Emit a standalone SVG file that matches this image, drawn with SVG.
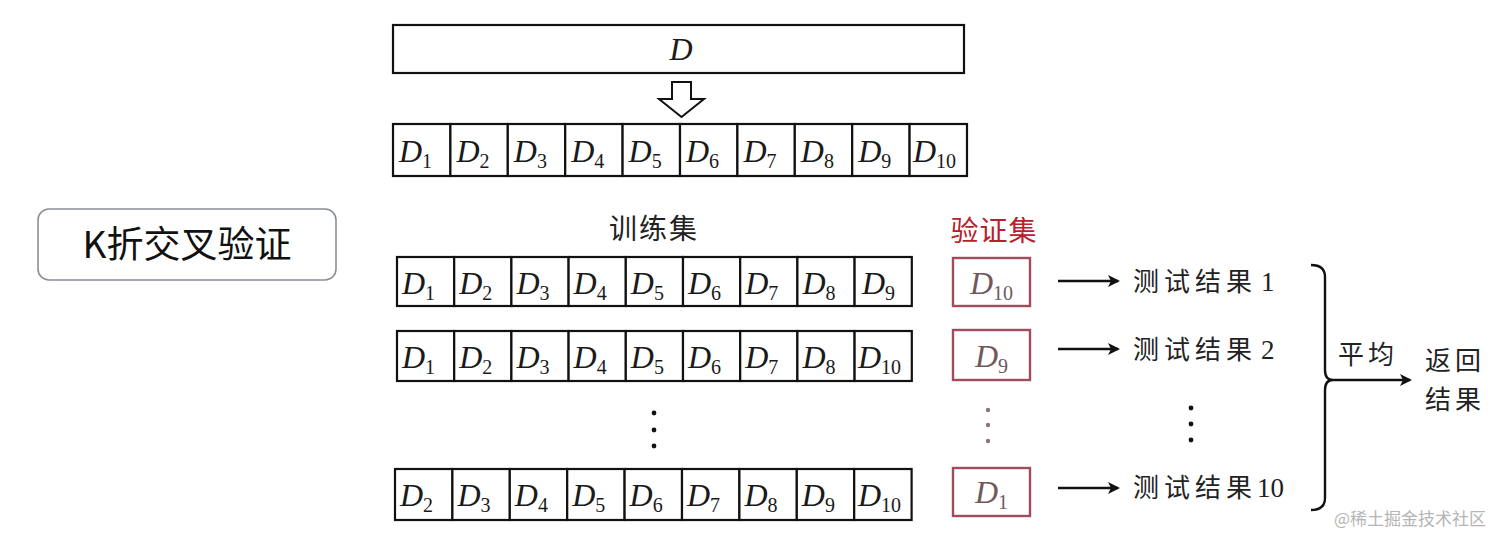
<svg xmlns="http://www.w3.org/2000/svg" width="1512" height="545" viewBox="0 0 1512 545">
<style>
.cell{fill:#fff;stroke:#111;stroke-width:2.2}
.vcell{fill:#fff;stroke:#a34b5e;stroke-width:2.4}
.d{font-family:"Liberation Serif",serif;font-style:italic;font-size:32px;fill:#1a1a1a}
.vd{font-family:"Liberation Serif",serif;font-style:italic;font-size:32px;fill:#6e5a5e}
.sub{font-style:normal;font-size:20px}
.cn{font-family:"Noto Sans CJK SC",sans-serif;font-size:26px;fill:#222;letter-spacing:5px}
.num{font-family:"Liberation Serif",serif;font-size:27px;fill:#222;letter-spacing:0}
.red{font-family:"Noto Sans CJK SC",sans-serif;font-size:28px;fill:#b8202c;letter-spacing:1px}
.conn{stroke:#111;stroke-width:2.4;fill:none}
</style>
<defs>
<marker id="ah" markerWidth="12" markerHeight="12" refX="10" refY="6" orient="auto" markerUnits="userSpaceOnUse">
<path d="M0,0 L12,6 L0,12 L3,6 Z" fill="#111"/>
</marker>
</defs>
<rect width="1512" height="545" fill="#fff"/>

<g id="label">
<rect x="38" y="209" width="298" height="71" rx="11" fill="#fff" stroke="#8a8f98" stroke-width="1.6"/>
<text x="187" y="258" text-anchor="middle" font-family="Noto Sans CJK SC, sans-serif" font-size="37" fill="#111">K折交叉验证</text>
</g>

<g id="D-full">
<rect class="cell" x="393" y="25" width="571" height="48"/>
<text class="d" x="681" y="60" text-anchor="middle">D</text>
</g>

<g id="split-arrow">
<path d="M672,82 L691,82 L691,99 L704,99 L681.5,117 L659,99 L672,99 Z" fill="#fff" stroke="#111" stroke-width="2"/>
</g>

<g id="row0">
<rect class="cell" x="393" y="124" width="57.4" height="52"/><text class="d" x="399" y="162">D<tspan class="sub" dy="6">1</tspan></text>
<rect class="cell" x="450.4" y="124" width="57.4" height="52"/><text class="d" x="456.4" y="162">D<tspan class="sub" dy="6">2</tspan></text>
<rect class="cell" x="507.8" y="124" width="57.4" height="52"/><text class="d" x="513.8" y="162">D<tspan class="sub" dy="6">3</tspan></text>
<rect class="cell" x="565.2" y="124" width="57.4" height="52"/><text class="d" x="571.2" y="162">D<tspan class="sub" dy="6">4</tspan></text>
<rect class="cell" x="622.6" y="124" width="57.4" height="52"/><text class="d" x="628.6" y="162">D<tspan class="sub" dy="6">5</tspan></text>
<rect class="cell" x="680" y="124" width="57.4" height="52"/><text class="d" x="686" y="162">D<tspan class="sub" dy="6">6</tspan></text>
<rect class="cell" x="737.4" y="124" width="57.4" height="52"/><text class="d" x="743.4" y="162">D<tspan class="sub" dy="6">7</tspan></text>
<rect class="cell" x="794.8" y="124" width="57.4" height="52"/><text class="d" x="800.8" y="162">D<tspan class="sub" dy="6">8</tspan></text>
<rect class="cell" x="852.2" y="124" width="57.4" height="52"/><text class="d" x="858.2" y="162">D<tspan class="sub" dy="6">9</tspan></text>
<rect class="cell" x="909.6" y="124" width="57.4" height="52"/><text class="d" x="913" y="162">D<tspan class="sub" dy="6">10</tspan></text>
</g>

<g id="titles">
<text class="cn" x="654" y="239" text-anchor="middle" style="font-size:28px;letter-spacing:2px">训练集</text>
<text class="red" x="994" y="241" text-anchor="middle">验证集</text>
</g>

<g id="train1">
<rect class="cell" x="397" y="257" width="57.2" height="49"/><text class="d" x="402" y="294">D<tspan class="sub" dy="6">1</tspan></text>
<rect class="cell" x="454.2" y="257" width="57.2" height="49"/><text class="d" x="459.2" y="294">D<tspan class="sub" dy="6">2</tspan></text>
<rect class="cell" x="511.4" y="257" width="57.2" height="49"/><text class="d" x="516.4" y="294">D<tspan class="sub" dy="6">3</tspan></text>
<rect class="cell" x="568.6" y="257" width="57.2" height="49"/><text class="d" x="573.6" y="294">D<tspan class="sub" dy="6">4</tspan></text>
<rect class="cell" x="625.8" y="257" width="57.2" height="49"/><text class="d" x="630.8" y="294">D<tspan class="sub" dy="6">5</tspan></text>
<rect class="cell" x="683" y="257" width="57.2" height="49"/><text class="d" x="688" y="294">D<tspan class="sub" dy="6">6</tspan></text>
<rect class="cell" x="740.2" y="257" width="57.2" height="49"/><text class="d" x="745.2" y="294">D<tspan class="sub" dy="6">7</tspan></text>
<rect class="cell" x="797.4" y="257" width="57.2" height="49"/><text class="d" x="802.4" y="294">D<tspan class="sub" dy="6">8</tspan></text>
<rect class="cell" x="854.6" y="257" width="57.2" height="49"/><text class="d" x="862" y="294">D<tspan class="sub" dy="6">9</tspan></text>
</g>

<g id="train2">
<rect class="cell" x="397" y="331" width="57.2" height="50"/><text class="d" x="402" y="368">D<tspan class="sub" dy="6">1</tspan></text>
<rect class="cell" x="454.2" y="331" width="57.2" height="50"/><text class="d" x="459.2" y="368">D<tspan class="sub" dy="6">2</tspan></text>
<rect class="cell" x="511.4" y="331" width="57.2" height="50"/><text class="d" x="516.4" y="368">D<tspan class="sub" dy="6">3</tspan></text>
<rect class="cell" x="568.6" y="331" width="57.2" height="50"/><text class="d" x="573.6" y="368">D<tspan class="sub" dy="6">4</tspan></text>
<rect class="cell" x="625.8" y="331" width="57.2" height="50"/><text class="d" x="630.8" y="368">D<tspan class="sub" dy="6">5</tspan></text>
<rect class="cell" x="683" y="331" width="57.2" height="50"/><text class="d" x="688" y="368">D<tspan class="sub" dy="6">6</tspan></text>
<rect class="cell" x="740.2" y="331" width="57.2" height="50"/><text class="d" x="745.2" y="368">D<tspan class="sub" dy="6">7</tspan></text>
<rect class="cell" x="797.4" y="331" width="57.2" height="50"/><text class="d" x="802.4" y="368">D<tspan class="sub" dy="6">8</tspan></text>
<rect class="cell" x="854.6" y="331" width="57.2" height="50"/><text class="d" x="858" y="368">D<tspan class="sub" dy="6">10</tspan></text>
</g>

<g id="train-dots" fill="#111">
<circle cx="654" cy="413" r="2.4"/><circle cx="654" cy="430" r="2.4"/><circle cx="654" cy="446" r="2.4"/>
</g>

<g id="train10">
<rect class="cell" x="395" y="469" width="57.4" height="51"/><text class="d" x="400" y="506">D<tspan class="sub" dy="6">2</tspan></text>
<rect class="cell" x="452.4" y="469" width="57.4" height="51"/><text class="d" x="457.4" y="506">D<tspan class="sub" dy="6">3</tspan></text>
<rect class="cell" x="509.8" y="469" width="57.4" height="51"/><text class="d" x="514.8" y="506">D<tspan class="sub" dy="6">4</tspan></text>
<rect class="cell" x="567.2" y="469" width="57.4" height="51"/><text class="d" x="572.2" y="506">D<tspan class="sub" dy="6">5</tspan></text>
<rect class="cell" x="624.6" y="469" width="57.4" height="51"/><text class="d" x="629.6" y="506">D<tspan class="sub" dy="6">6</tspan></text>
<rect class="cell" x="682" y="469" width="57.4" height="51"/><text class="d" x="687" y="506">D<tspan class="sub" dy="6">7</tspan></text>
<rect class="cell" x="739.4" y="469" width="57.4" height="51"/><text class="d" x="744.4" y="506">D<tspan class="sub" dy="6">8</tspan></text>
<rect class="cell" x="796.8" y="469" width="57.4" height="51"/><text class="d" x="801.8" y="506">D<tspan class="sub" dy="6">9</tspan></text>
<rect class="cell" x="854.2" y="469" width="57.4" height="51"/><text class="d" x="858" y="506">D<tspan class="sub" dy="6">10</tspan></text>
</g>

<g id="val1">
<rect class="vcell" x="953" y="258" width="77" height="48"/><text class="vd" x="991.5" y="294" text-anchor="middle">D<tspan class="sub" dy="6">10</tspan></text>
</g>
<g id="val2">
<rect class="vcell" x="953" y="330" width="77" height="50"/><text class="vd" x="991.5" y="367" text-anchor="middle">D<tspan class="sub" dy="6">9</tspan></text>
</g>
<g id="val-dots" fill="#8a7479">
<circle cx="988" cy="410" r="2.2"/><circle cx="988" cy="425" r="2.2"/><circle cx="988" cy="441" r="2.2"/>
</g>
<g id="val10">
<rect class="vcell" x="953" y="468" width="77" height="48"/><text class="vd" x="991.5" y="503" text-anchor="middle">D<tspan class="sub" dy="6">1</tspan></text>
</g>

<g id="connectors">
<line class="conn" x1="1058" y1="281" x2="1118" y2="281" marker-end="url(#ah)"/>
<line class="conn" x1="1058" y1="349" x2="1118" y2="349" marker-end="url(#ah)"/>
<line class="conn" x1="1058" y1="488" x2="1118" y2="488" marker-end="url(#ah)"/>
<path class="conn" d="M1311,265 Q1325,265 1325,277 L1325,370 Q1325,380 1333,380 Q1325,380 1325,390 L1325,498 Q1325,510 1311,510"/>
<line class="conn" x1="1333" y1="380" x2="1410" y2="380" marker-end="url(#ah)"/>
</g>

<g id="result1"><text class="cn" x="1133" y="291">测试结果<tspan class="num" dx="4">1</tspan></text></g>
<g id="result2"><text class="cn" x="1133" y="359">测试结果<tspan class="num" dx="4">2</tspan></text></g>
<g id="result-dots" fill="#111">
<circle cx="1191" cy="408" r="2.4"/><circle cx="1191" cy="424" r="2.4"/><circle cx="1191" cy="440" r="2.4"/>
</g>
<g id="result10"><text class="cn" x="1133" y="497">测试结果<tspan class="num">10</tspan></text></g>

<g id="average"><text class="cn" x="1338" y="364" style="letter-spacing:4px">平均</text></g>
<g id="return">
<text class="cn" x="1425" y="370" style="letter-spacing:4px">返回</text>
<text class="cn" x="1425" y="409" style="letter-spacing:4px">结果</text>
</g>

<g id="watermark"><text x="1334" y="525" font-family="Noto Sans CJK SC, sans-serif" font-size="17" fill="#b5b5b5">@稀土掘金技术社区</text></g>
</svg>
